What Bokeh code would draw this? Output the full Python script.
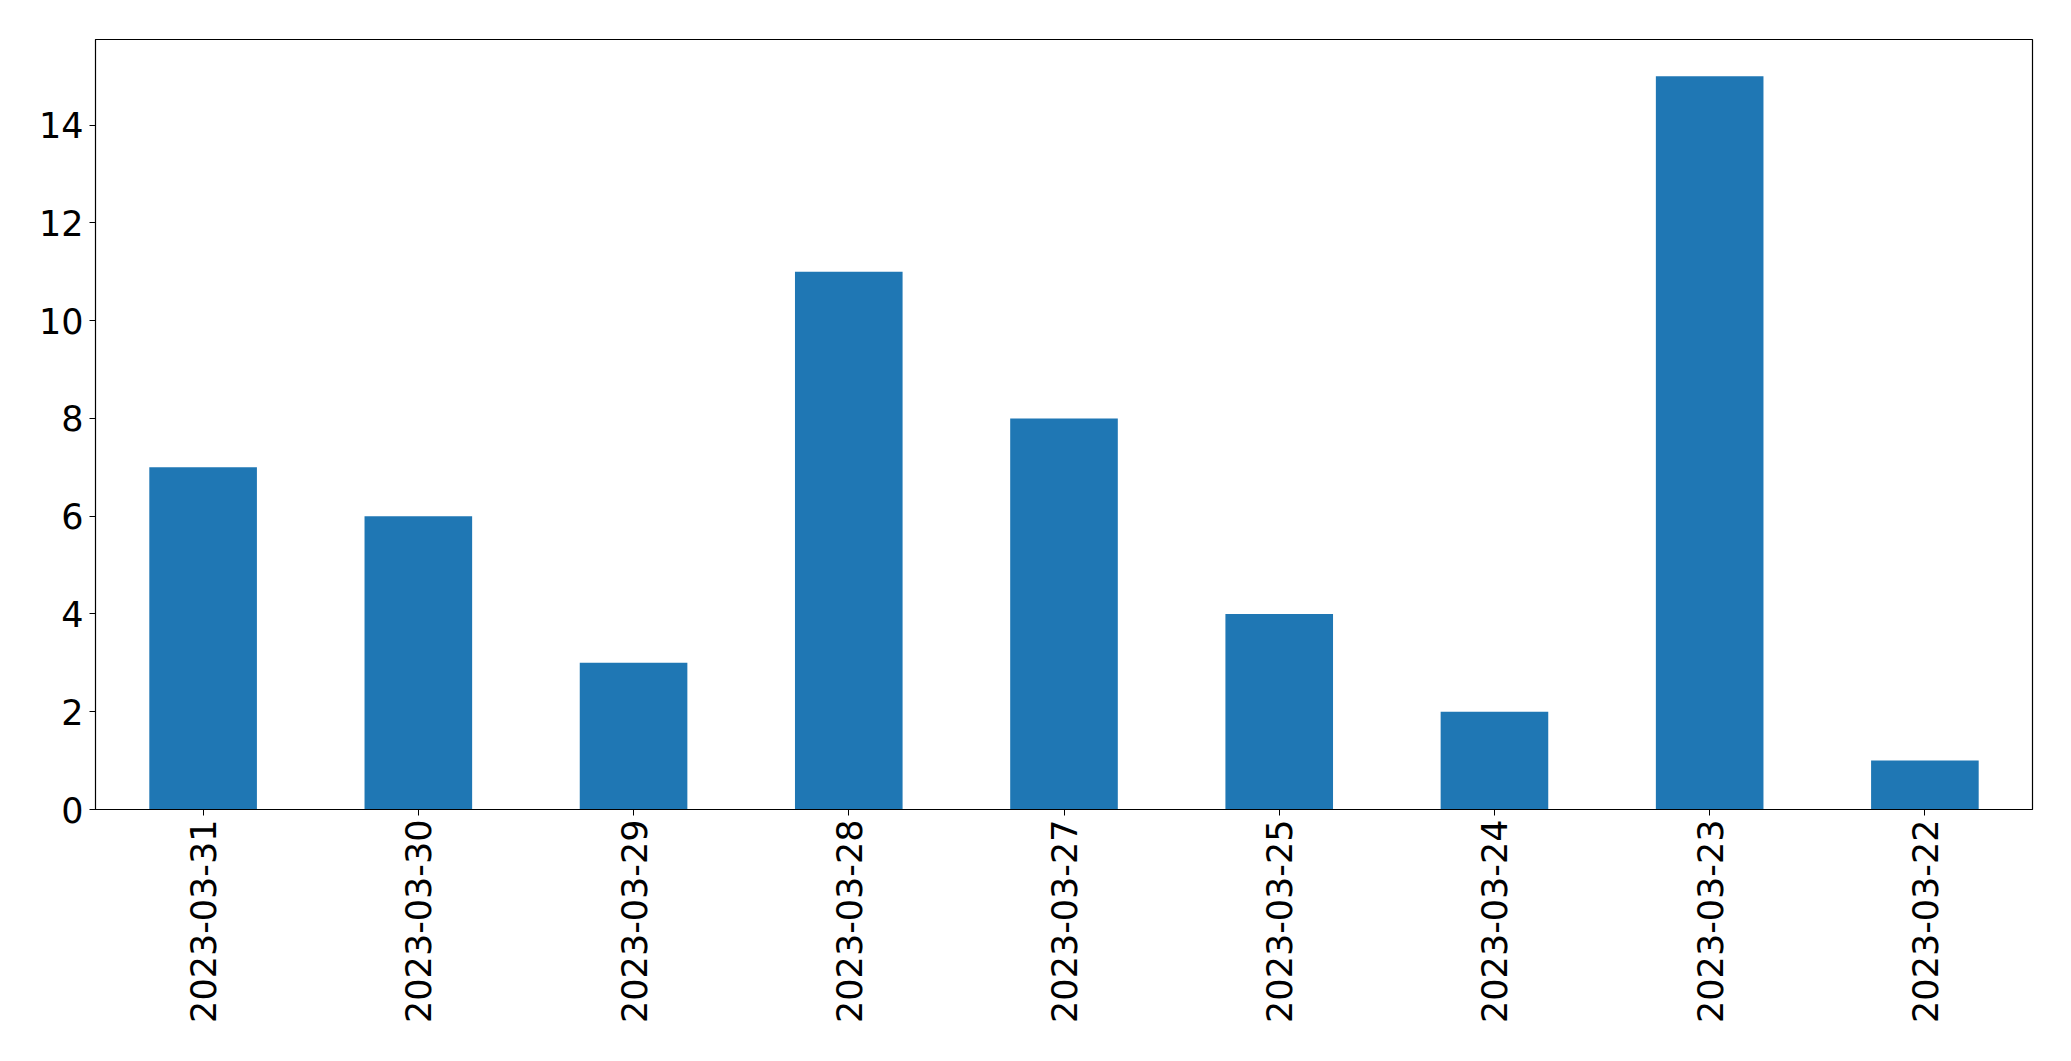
import math
from bokeh.plotting import figure
from bokeh.models import FactorRange, Range1d, FixedTicker
from bokeh.embed import file_html
from bokeh.resources import INLINE

dates = ["2023-03-31", "2023-03-30", "2023-03-29", "2023-03-28", "2023-03-27",
         "2023-03-25", "2023-03-24", "2023-03-23", "2023-03-22"]
counts = [7, 6, 3, 11, 8, 4, 2, 15, 1]
y_ticks = [0, 2, 4, 6, 8, 10, 12, 14]

p = figure(width=2055, height=1045, output_backend="svg", toolbar_location=None,
           x_range=FactorRange(factors=dates, range_padding=0),
           y_range=Range1d(0, max(counts) * 1.05),
           min_border_left=95, min_border_right=23, min_border_top=39, min_border_bottom=236)

p.vbar(x=dates, top=counts, width=0.5, fill_color="#1f77b4", line_color=None)

p.xgrid.visible = False
p.ygrid.visible = False
p.outline_line_color = "black"
p.outline_line_width = 1.2
p.background_fill_color = "white"
p.border_fill_color = "white"

for ax in (p.xaxis, p.yaxis):
    ax.axis_line_color = "black"
    ax.major_tick_line_color = "black"
    ax.major_tick_out = 6
    ax.major_tick_in = 0
    ax.minor_tick_line_color = None
    ax.major_label_text_font = "DejaVu Sans"
    ax.major_label_text_font_size = "35px"
    ax.major_label_text_color = "black"

p.yaxis.ticker = FixedTicker(ticks=y_ticks)
p.yaxis.major_label_standoff = 6
p.xaxis.major_label_orientation = math.pi / 2
p.xaxis.major_label_standoff = 4
p.xaxis.group_text_font_size = "0px"

open("out.html", "w").write(file_html(p, INLINE))
